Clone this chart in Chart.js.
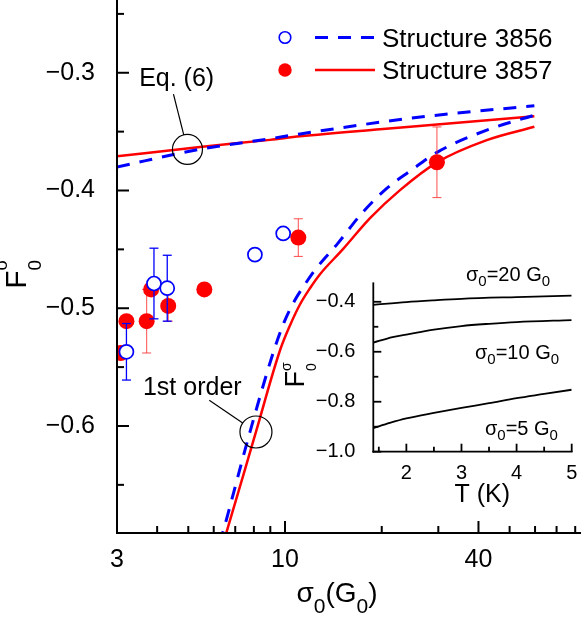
<!DOCTYPE html>
<html>
<head>
<meta charset="utf-8">
<script src="https://cdn.jsdelivr.net/npm/chart.js@4.4.0/dist/chart.umd.min.js"></script>
<style>
  html, body { margin: 0; padding: 0; background: #fff; }
  #wrap { position: relative; width: 581px; height: 618px; overflow: hidden; }
  #main { position: absolute; left: 0; top: 0; }
  #inset { position: absolute; left: 270px; top: 255px; }
</style>
</head>
<body>
<div id="wrap">
  <canvas id="main" width="581" height="618"></canvas>
  <canvas id="inset" width="311" height="260"></canvas>
</div>
<script>
const FONT = '"Liberation Sans", Arial, Helvetica, sans-serif';
const BLUE = '#0000ff';
const RED = '#ff0000';

// measured F0 vs sigma0 (G0)
const s3856X = [3.21, 3.91, 4.30, 8.06, 9.87];
const s3856Y = [-0.537, -0.479, -0.483, -0.4545, -0.4365];
const s3856Err = [0.024, 0.030, 0.028, 0, 0];

const s3857X = [3.08, 3.21, 3.71, 3.83, 4.33, 5.61, 11.0, 29.7];
const s3857Y = [-0.538, -0.511, -0.511, -0.484, -0.498, -0.484, -0.440, -0.376];
const s3857Err = [0, 0, 0.027, 0, 0.013, 0, 0.016, 0.030];

// Eq. (6) curves
const eq6X = [3.0, 5.44, 8.98, 11.14, 19.75, 29.7, 59.7];
const eq6Y3856 = [-0.380, -0.365, -0.356, -0.352, -0.342, -0.336, -0.328];
const eq6Y3857 = [-0.371, -0.363, -0.357, -0.354, -0.348, -0.344, -0.337];

// 1st order curves
const first3856X = [6.25, 6.41, 7.78, 9.24, 9.93, 10.74, 11.54, 12.31, 14.62, 17.36, 20.77, 24.5, 29.72, 42.45, 59.9];
const first3856Y = [-0.700, -0.690, -0.605, -0.5357, -0.512, -0.493, -0.4796, -0.4685, -0.4447, -0.4192, -0.398, -0.3835, -0.3676, -0.3487, -0.3359];
const first3857X = [6.41, 6.58, 8.12, 9.65, 10.37, 11.14, 11.96, 12.85, 15.15, 18.39, 22.8, 29.72, 42.45, 59.7];
const first3857Y = [-0.700, -0.690, -0.605, -0.5357, -0.5144, -0.4966, -0.483, -0.4711, -0.4498, -0.4235, -0.3997, -0.3761, -0.3572, -0.3459];

const xMajor = [3, 10, 40];
const xMinor = [4, 5, 6, 7, 8, 9, 20, 30, 50, 60, 70, 80];
const yMajor = [-0.3, -0.4, -0.5, -0.6];
const yMinor = [-0.25, -0.35, -0.45, -0.55, -0.65];

// annotation anchors (data coords)
const eq6Mark = { x: 4.97, y: -0.3651 };
const firstMark = { x: 8.12, y: -0.6051 };

// inset: F0 vs T
const insetT20 = [1.4, 2, 2.5, 3, 4, 5];
const insetF20 = [-0.412, -0.401, -0.394, -0.388, -0.381, -0.375];
const insetT10 = [1.4, 1.75, 2, 2.5, 3, 3.5, 4, 5];
const insetF10 = [-0.563, -0.541, -0.531, -0.511, -0.497, -0.488, -0.481, -0.473];
const insetT5 = [1.4, 1.7, 2, 2.5, 3, 3.5, 4, 4.5, 5];
const insetF5 = [-0.906, -0.885, -0.867, -0.845, -0.825, -0.806, -0.786, -0.769, -0.752];

const insetXMajor = [2, 3, 4, 5];
const insetXMinor = [1.5, 2.5, 3.5, 4.5];
const insetYMajor = [-0.4, -0.6, -0.8, -1.0];
const insetYMinor = [-0.5, -0.7, -0.9];

Chart.defaults.font.family = FONT;
Chart.defaults.color = '#000';

function pts(xs, ys) {
    return xs.map((x, i) => ({ x, y: ys[i] }));
}

function fmtNeg(v) {
    return (v < 0 ? '\u2212' : '') + Math.abs(v).toFixed(1);
}

// text with sub/superscripts; parts: {t, size, dy, stack}
function richText(ctx, parts, x, y, align) {
    let total = 0, lastStart = 0, lastW = 0;
    parts.forEach(p => {
        ctx.font = p.size + 'px ' + FONT;
        p.w = ctx.measureText(p.t).width;
        if (p.stack) {
            p.x0 = lastStart;
            total += Math.max(0, p.w - lastW);
            lastW = Math.max(lastW, p.w);
        } else {
            p.x0 = total;
            lastStart = total;
            lastW = p.w;
            total += p.w;
        }
    });
    const sx = align === 'center' ? x - total / 2 : (align === 'right' ? x - total : x);
    ctx.textAlign = 'left';
    ctx.textBaseline = 'alphabetic';
    ctx.fillStyle = '#000';
    parts.forEach(p => {
        ctx.font = p.size + 'px ' + FONT;
        ctx.fillText(p.t, sx + p.x0, y + (p.dy || 0));
    });
}

function line(ctx, x1, y1, x2, y2) {
    ctx.beginPath();
    ctx.moveTo(x1, y1);
    ctx.lineTo(x2, y2);
    ctx.stroke();
}

function drawFrame(chart, xMaj, xMin, yMaj, yMin, majLen, minLen, width) {
    const ctx = chart.ctx;
    const a = chart.chartArea;
    const xs = chart.scales.x, ys = chart.scales.y;
    ctx.save();
    ctx.strokeStyle = '#000';
    ctx.lineWidth = width;
    ctx.lineCap = 'square';
    line(ctx, a.left, a.top, a.left, a.bottom);
    line(ctx, a.left, a.bottom, a.right, a.bottom);
    ctx.lineCap = 'butt';
    xMaj.forEach(v => { const p = xs.getPixelForValue(v); line(ctx, p, a.bottom, p, a.bottom - majLen); });
    xMin.forEach(v => { const p = xs.getPixelForValue(v); line(ctx, p, a.bottom, p, a.bottom - minLen); });
    yMaj.forEach(v => { const p = ys.getPixelForValue(v); line(ctx, a.left, p, a.left + majLen, p); });
    yMin.forEach(v => { const p = ys.getPixelForValue(v); line(ctx, a.left, p, a.left + minLen, p); });
    ctx.restore();
}

const errorBars = {
    id: 'errorBars',
    beforeDatasetDraw(chart, args) {
        const ds = chart.data.datasets[args.index];
        if (!ds.errors) return;
        const ctx = chart.ctx;
        const xs = chart.scales.x, ys = chart.scales.y;
        ctx.save();
        ctx.strokeStyle = ds.errorColor;
        ctx.lineWidth = ds.errorWidth;
        ds.data.forEach((d, i) => {
            const e = ds.errors[i];
            if (!e) return;
            const px = xs.getPixelForValue(d.x);
            const top = ys.getPixelForValue(d.y + e);
            const bot = ys.getPixelForValue(d.y - e);
            line(ctx, px, top, px, bot);
            line(ctx, px - 4.5, top, px + 4.5, top);
            line(ctx, px - 4.5, bot, px + 4.5, bot);
        });
        ctx.restore();
    }
};

const mainDecor = {
    id: 'mainDecor',
    afterDraw(chart) {
        const ctx = chart.ctx;
        const xs = chart.scales.x, ys = chart.scales.y;
        drawFrame(chart, xMajor, xMinor, yMajor, yMinor, 12, 7, 2);

        ctx.save();
        // axis titles
        richText(ctx, [
            { t: '\u03c3', size: 28 },
            { t: '0', size: 21, dy: 11 },
            { t: '(G', size: 28 },
            { t: '0', size: 21, dy: 11 },
            { t: ')', size: 28 }
        ], 337, 602, 'center');

        ctx.save();
        ctx.translate(26, 274);
        ctx.rotate(-Math.PI / 2);
        richText(ctx, [
            { t: 'F', size: 30 },
            { t: '0', size: 19, dy: 15 },
            { t: '\u03c3', size: 18, dy: -19, stack: true }
        ], 0, 0, 'center');
        ctx.restore();

        // legend
        ctx.lineWidth = 1.6;
        ctx.strokeStyle = BLUE;
        ctx.fillStyle = '#fff';
        ctx.beginPath();
        ctx.arc(285, 37.5, 5.8, 0, Math.PI * 2);
        ctx.fill();
        ctx.stroke();
        ctx.lineWidth = 3;
        ctx.setLineDash([13, 10]);
        line(ctx, 315, 37.5, 375, 37.5);
        ctx.setLineDash([]);
        ctx.fillStyle = RED;
        ctx.beginPath();
        ctx.arc(285, 70, 6.7, 0, Math.PI * 2);
        ctx.fill();
        ctx.strokeStyle = RED;
        ctx.lineWidth = 2.5;
        line(ctx, 315, 70, 375, 70);
        richText(ctx, [{ t: 'Structure 3856', size: 26 }], 382, 46.5, 'left');
        richText(ctx, [{ t: 'Structure 3857', size: 26 }], 382, 79, 'left');

        // annotations
        ctx.strokeStyle = '#000';
        ctx.lineWidth = 1.2;
        const marks = [
            { m: eq6Mark, r: 15, lead: [-14, -55.3], text: 'Eq. (6)', tx: -48.3, ty: -63.3 },
            { m: firstMark, r: 16, lead: [-46.7, -31.7], text: '1st order', tx: -113, ty: -36.7 }
        ];
        marks.forEach(k => {
            const cx = xs.getPixelForValue(k.m.x);
            const cy = ys.getPixelForValue(k.m.y);
            ctx.beginPath();
            ctx.arc(cx, cy, k.r, 0, Math.PI * 2);
            ctx.stroke();
            const len = Math.hypot(k.lead[0], k.lead[1]);
            line(ctx, cx + k.lead[0], cy + k.lead[1],
                cx + k.lead[0] / len * k.r, cy + k.lead[1] / len * k.r);
            richText(ctx, [{ t: k.text, size: 25 }], cx + k.tx, cy + k.ty, 'left');
        });
        ctx.restore();
    }
};

new Chart(document.getElementById('main'), {
    type: 'scatter',
    data: {
        datasets: [
            {
                data: pts(s3856X, s3856Y), errors: s3856Err, errorColor: BLUE, errorWidth: 1.3,
                pointRadius: 7, pointBorderWidth: 1.7, pointBorderColor: BLUE,
                pointBackgroundColor: '#fff', order: 0
            },
            {
                data: pts(s3857X, s3857Y), errors: s3857Err, errorColor: 'rgba(255,40,40,0.75)', errorWidth: 1.1,
                pointRadius: 8, pointBorderWidth: 0, pointBackgroundColor: RED, order: 1
            },
            {
                data: pts(eq6X, eq6Y3856), showLine: true, pointRadius: 0, borderColor: BLUE,
                borderWidth: 3, borderDash: [13, 10], cubicInterpolationMode: 'monotone', order: 2
            },
            {
                data: pts(first3856X, first3856Y), showLine: true, pointRadius: 0, borderColor: BLUE,
                borderWidth: 3, borderDash: [13, 10], cubicInterpolationMode: 'monotone', order: 3
            },
            {
                data: pts(eq6X, eq6Y3857), showLine: true, pointRadius: 0, borderColor: RED,
                borderWidth: 2.5, cubicInterpolationMode: 'monotone', order: 4
            },
            {
                data: pts(first3857X, first3857Y), showLine: true, pointRadius: 0, borderColor: RED,
                borderWidth: 2.5, cubicInterpolationMode: 'monotone', order: 5
            }
        ]
    },
    options: {
        responsive: false,
        animation: false,
        devicePixelRatio: 1,
        layout: { autoPadding: false, padding: { left: 0, top: 0, right: 1, bottom: 0 } },
        plugins: { legend: { display: false }, tooltip: { enabled: false } },
        scales: {
            x: {
                type: 'logarithmic', min: 3, max: 82.8,
                afterBuildTicks: s => { s.ticks = xMajor.map(v => ({ value: v })); },
                afterFit: s => { s.height = 85; s.paddingLeft = 0; s.paddingRight = 0; },
                ticks: { callback: v => String(v), font: { size: 25 }, padding: 4, maxRotation: 0, autoSkip: false },
                grid: { display: false },
                border: { display: false }
            },
            y: {
                type: 'linear', min: -0.6909, max: -0.2382,
                afterBuildTicks: s => { s.ticks = yMajor.map(v => ({ value: v })); },
                afterFit: s => { s.width = 117; s.paddingTop = 0; s.paddingBottom = 0; },
                ticks: { callback: v => fmtNeg(v), font: { size: 25 }, padding: 14 },
                grid: { display: false },
                border: { display: false }
            }
        }
    },
    plugins: [errorBars, mainDecor]
});

const insetDecor = {
    id: 'insetDecor',
    afterDraw(chart) {
        const ctx = chart.ctx;
        drawFrame(chart, insetXMajor, insetXMinor, insetYMajor, insetYMinor, 8, 5, 1.8);
        ctx.save();
        richText(ctx, [{ t: 'T (K)', size: 25 }], 212.3, 247, 'center');
        ctx.save();
        ctx.translate(34, 120);
        ctx.rotate(-Math.PI / 2);
        richText(ctx, [
            { t: 'F', size: 27 },
            { t: '0', size: 14, dy: 11.5 },
            { t: '\u03c3', size: 14, dy: -13, stack: true }
        ], 0, 0, 'center');
        ctx.restore();
        const lab = (n, x, y) => richText(ctx, [
            { t: '\u03c3', size: 20 },
            { t: '0', size: 15, dy: 5 },
            { t: '=' + n + ' G', size: 20 },
            { t: '0', size: 15, dy: 5 }
        ], x, y, 'left');
        lab('20', 196, 25.5);
        lab('10', 205, 104);
        lab('5', 215, 179.5);
        ctx.restore();
    }
};

const insetLine = (xs, ys) => ({
    data: pts(xs, ys), showLine: true, pointRadius: 0, borderColor: '#000',
    borderWidth: 1.8, cubicInterpolationMode: 'monotone'
});

new Chart(document.getElementById('inset'), {
    type: 'scatter',
    data: {
        datasets: [
            insetLine(insetT20, insetF20),
            insetLine(insetT10, insetF10),
            insetLine(insetT5, insetF5)
        ]
    },
    options: {
        responsive: false,
        animation: false,
        devicePixelRatio: 1,
        layout: { autoPadding: false, padding: { left: 0, top: 28.3, right: 9.3, bottom: 0 } },
        plugins: { legend: { display: false }, tooltip: { enabled: false } },
        scales: {
            x: {
                type: 'linear', min: 1.4, max: 5,
                afterBuildTicks: s => { s.ticks = insetXMajor.map(v => ({ value: v })); },
                afterFit: s => { s.height = 63.3; s.paddingLeft = 0; s.paddingRight = 0; },
                ticks: { callback: v => String(v), font: { size: 20 }, padding: 2, maxRotation: 0, autoSkip: false },
                grid: { display: false },
                border: { display: false }
            },
            y: {
                type: 'linear', min: -1.0, max: -0.326,
                afterBuildTicks: s => { s.ticks = insetYMajor.map(v => ({ value: v })); },
                afterFit: s => { s.width = 103.3; s.paddingTop = 0; s.paddingBottom = 0; },
                ticks: { callback: v => fmtNeg(v), font: { size: 20 }, padding: 10 },
                grid: { display: false },
                border: { display: false }
            }
        }
    },
    plugins: [insetDecor]
});
</script>
</body>
</html>
